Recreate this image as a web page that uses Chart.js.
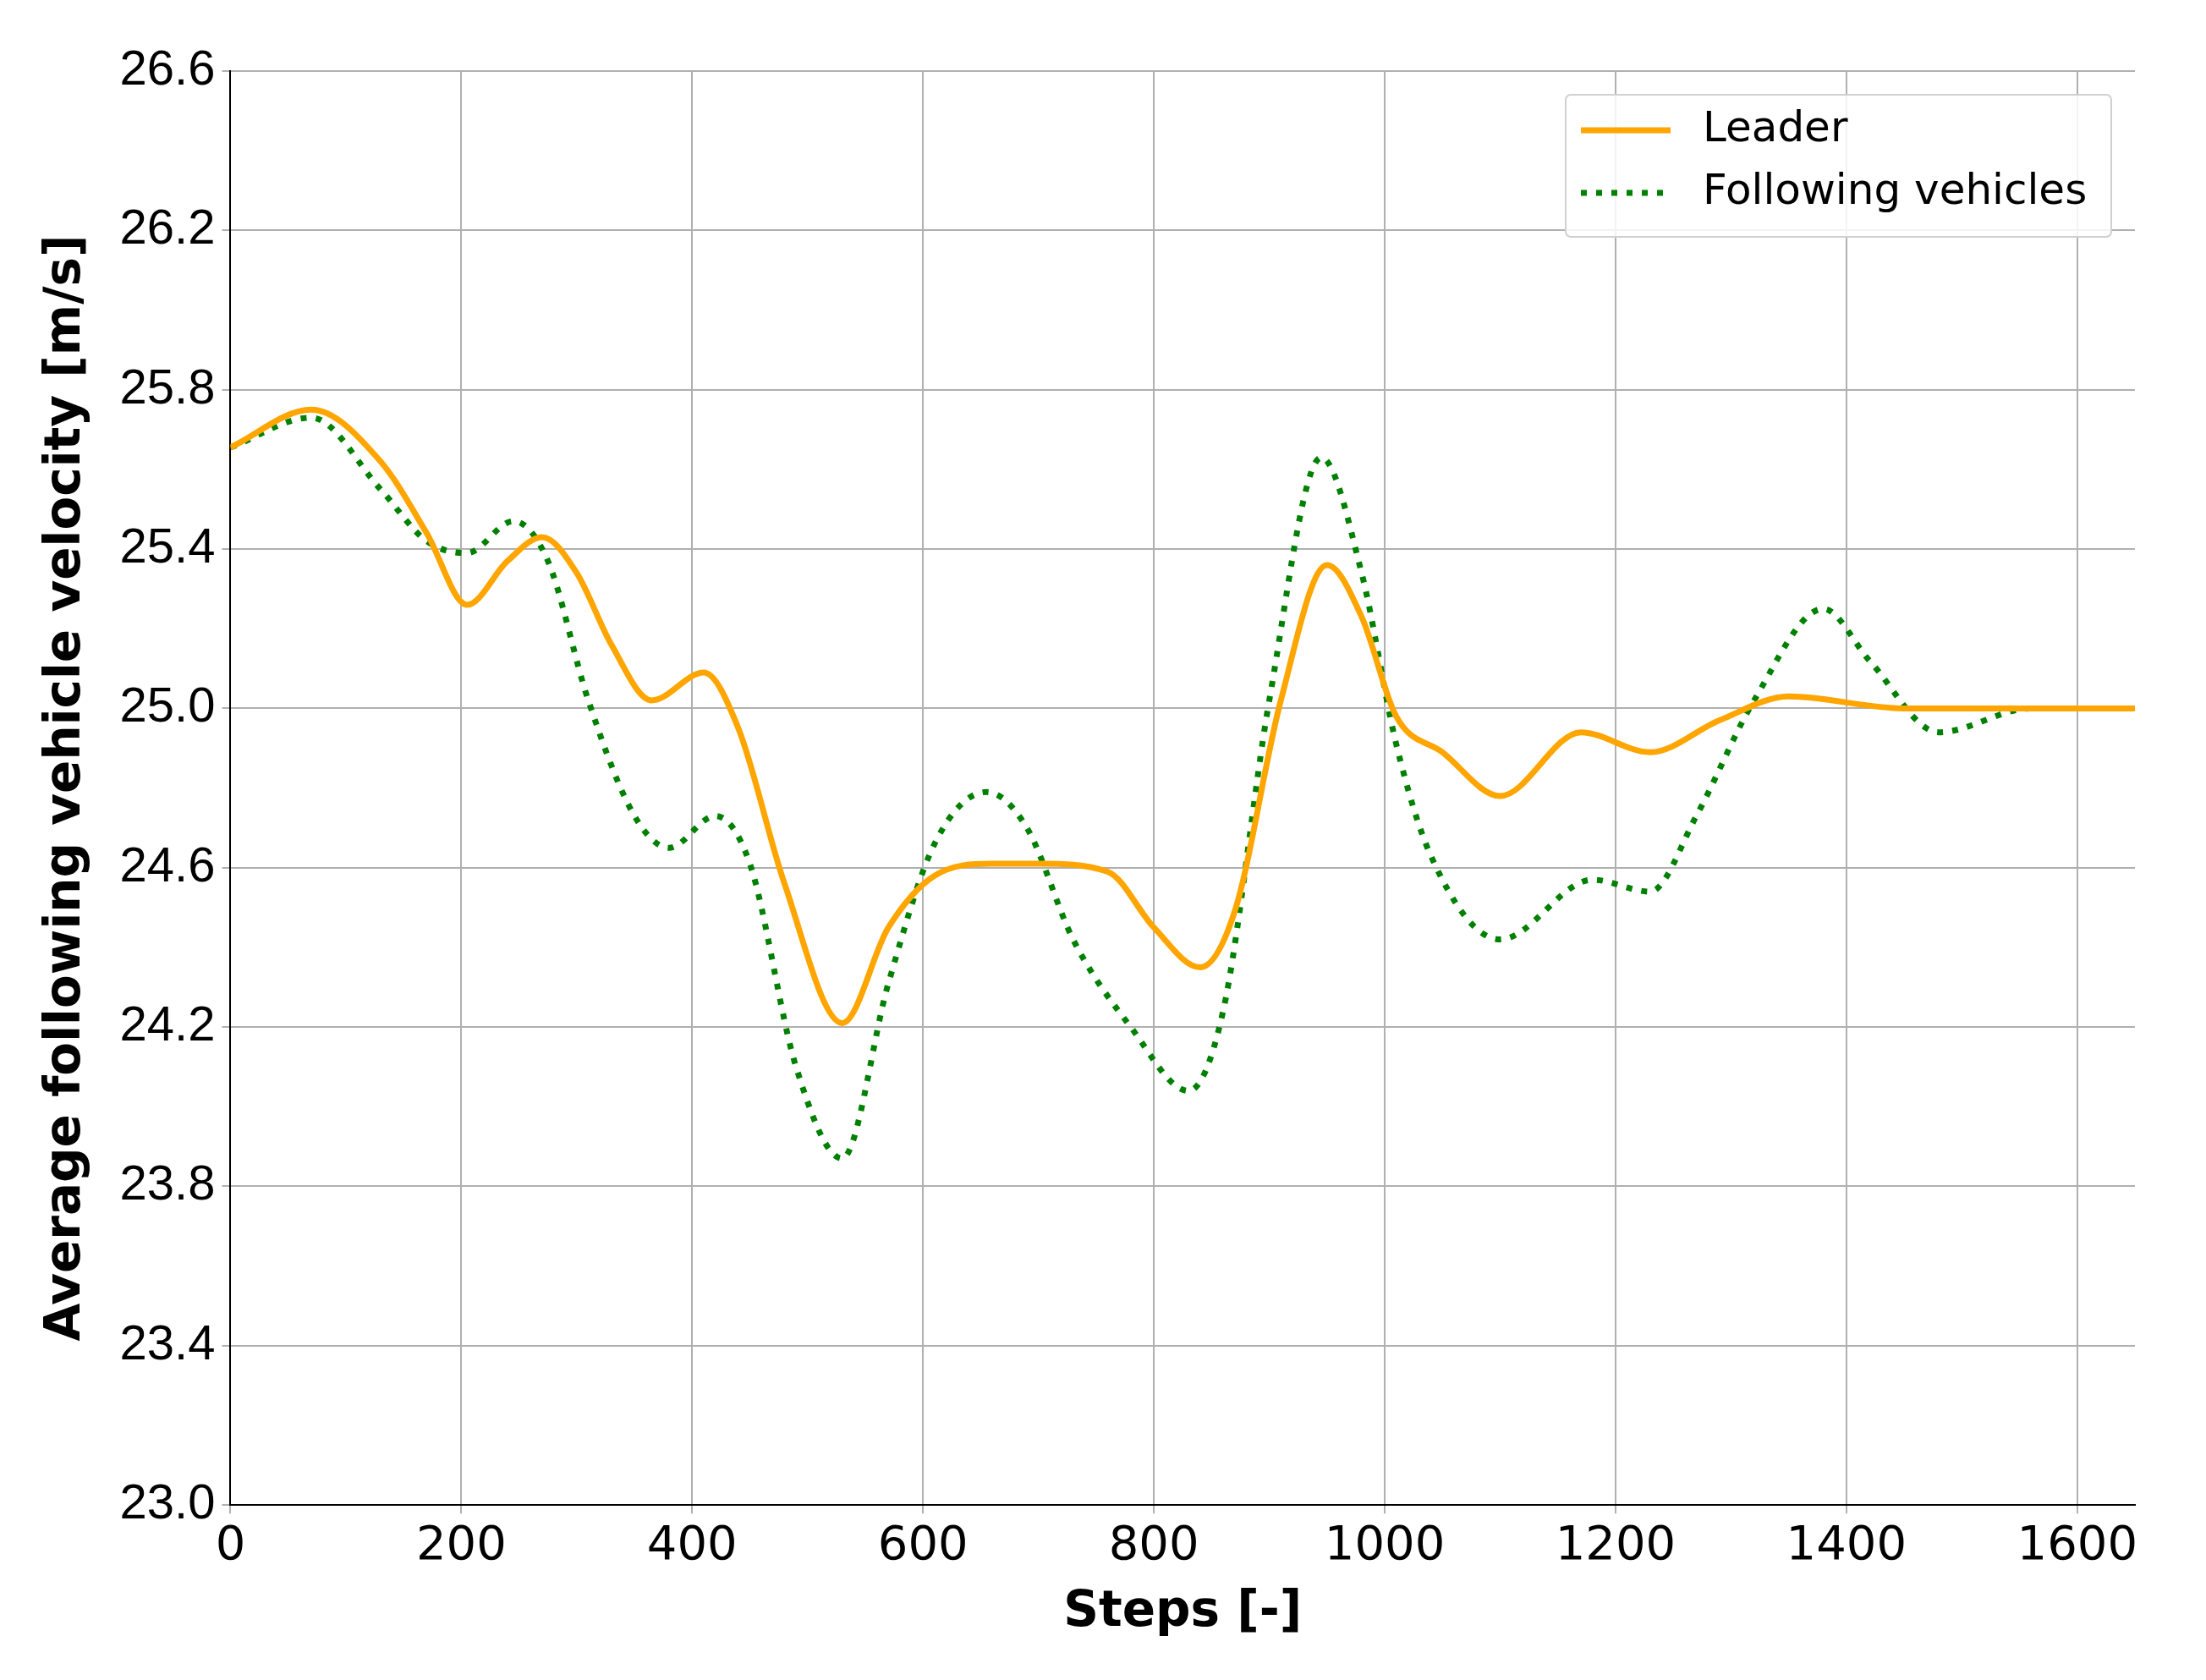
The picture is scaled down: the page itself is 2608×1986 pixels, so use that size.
<!DOCTYPE html>
<html>
<head>
<meta charset="utf-8">
<script src="https://cdn.jsdelivr.net/npm/chart.js@4/dist/chart.umd.min.js"></script>
<style>
  html, body { margin: 0; padding: 0; background: #fff; }
  #wrap { width: 2608px; height: 1986px; }
</style>
</head>
<body>
<div id="wrap"><canvas id="myChart"></canvas></div>
<script>
// Steps and velocities
const leaderSteps = [0, 70, 130, 170, 205, 240, 270, 300, 330, 365, 410, 440, 480, 530, 570, 610, 660, 700, 760, 800, 840, 870, 910, 950, 980, 1010, 1050, 1100, 1170, 1230, 1290, 1350, 1450, 1650];
const leaderVel = [25.655, 25.75, 25.62, 25.44, 25.26, 25.37, 25.43, 25.34, 25.16, 25.02, 25.09, 24.95, 24.56, 24.21, 24.45, 24.58, 24.61, 24.61, 24.59, 24.45, 24.35, 24.49, 25.02, 25.36, 25.23, 24.98, 24.89, 24.78, 24.94, 24.89, 24.97, 25.03, 25.0, 25.0];

const followSteps = [0, 70, 130, 170, 205, 245, 275, 310, 350, 380, 420, 450, 490, 530, 570, 610, 655, 690, 730, 780, 830, 860, 900, 945, 980, 1010, 1040, 1100, 1180, 1230, 1270, 1320, 1380, 1420, 1480, 1560, 1650];
const followVel = [25.655, 25.73, 25.55, 25.42, 25.39, 25.47, 25.37, 25.02, 24.73, 24.65, 24.73, 24.61, 24.10, 23.87, 24.31, 24.66, 24.79, 24.70, 24.42, 24.20, 24.04, 24.24, 25.02, 25.63, 25.34, 24.91, 24.63, 24.42, 24.57, 24.54, 24.73, 25.02, 25.25, 25.12, 24.94, 25.0, 25.0];

const yTicks = [23.0, 23.4, 23.8, 24.2, 24.6, 25.0, 25.4, 25.8, 26.2, 26.6];
const xTicks = [0, 200, 400, 600, 800, 1000, 1200, 1400, 1600];

const toPoints = (xs, ys) => xs.map((x, i) => ({ x: x, y: ys[i] }));

// legend drawn inside the plot, top right
const boxLegend = {
    id: 'boxLegend',
    afterDraw(chart) {
        const c = chart.ctx;
        const a = chart.chartArea;
        const w = 645, h = 168;
        const x0 = a.right - w - 28, y0 = a.top + 28;
        c.save();
        c.fillStyle = 'rgba(255,255,255,0.85)';
        c.strokeStyle = '#d0d0d0';
        c.lineWidth = 2;
        c.beginPath();
        c.roundRect(x0, y0, w, h, 6);
        c.fill();
        c.stroke();
        c.font = '50px "DejaVu Sans"';
        c.textBaseline = 'middle';
        chart.data.datasets.forEach((ds, i) => {
            const y = y0 + 42 + i * 74;
            c.strokeStyle = ds.borderColor;
            c.lineWidth = ds.borderWidth;
            c.setLineDash(ds.borderDash || []);
            c.beginPath();
            c.moveTo(x0 + 18, y);
            c.lineTo(x0 + 124, y);
            c.stroke();
            c.setLineDash([]);
            c.fillStyle = '#000';
            c.fillText(ds.label, x0 + 162, y);
        });
        c.restore();
    }
};

const ctx = document.getElementById('myChart');
new Chart(ctx, {
    type: 'scatter',
    data: {
        datasets: [
            {
                label: 'Leader',
                data: toPoints(leaderSteps, leaderVel),
                showLine: true,
                borderColor: '#FFA500',
                borderWidth: 7,
                pointRadius: 0,
                cubicInterpolationMode: 'monotone'
            },
            {
                label: 'Following vehicles',
                data: toPoints(followSteps, followVel),
                showLine: true,
                borderColor: '#008000',
                borderWidth: 7,
                borderDash: [7, 11],
                pointRadius: 0,
                cubicInterpolationMode: 'monotone'
            }
        ]
    },
    options: {
        responsive: true,
        maintainAspectRatio: false,
        animation: false,
        layout: { padding: { top: 84, right: 84, left: 40, bottom: 40 } },
        plugins: { legend: { display: false }, tooltip: { enabled: false } },
        scales: {
            x: {
                min: 0, max: 1650,
                afterBuildTicks: s => { s.ticks = xTicks.map(v => ({ value: v })); },
                grid: { color: '#b0b0b0', lineWidth: 2, drawTicks: true, tickLength: 10 },
                border: { color: '#000', width: 2 },
                ticks: { color: '#000', font: { size: 56, family: 'DejaVu Sans' }, padding: 6, callback: v => String(v) },
                title: { display: true, text: 'Steps [-]', color: '#000', font: { size: 58, weight: 'bold', family: 'DejaVu Sans' }, padding: { top: 4 } }
            },
            y: {
                min: 23.0, max: 26.6,
                afterBuildTicks: s => { s.ticks = yTicks.map(v => ({ value: v })); },
                grid: { color: '#b0b0b0', lineWidth: 2, tickLength: 10 },
                border: { color: '#000', width: 2 },
                ticks: { color: '#000', font: { size: 58, family: 'Liberation Sans' }, padding: 8, callback: v => v.toFixed(1) },
                title: { display: true, text: 'Average following vehicle velocity [m/s]', color: '#000', font: { size: 58, weight: 'bold', family: 'DejaVu Sans' }, padding: { bottom: 20 } }
            }
        }
    },
    plugins: [boxLegend]
});
</script>
</body>
</html>
